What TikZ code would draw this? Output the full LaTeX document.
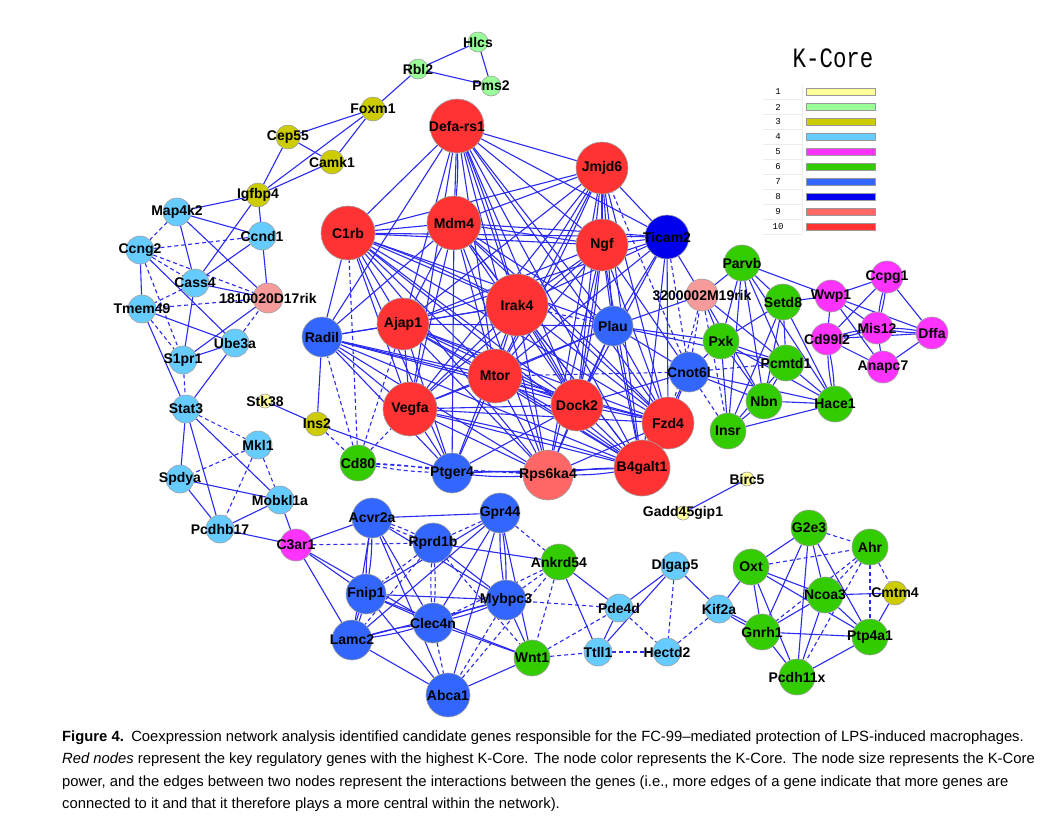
\documentclass[tikz,border=0pt]{standalone}
\usepackage{fontspec}
\setmainfont{Liberation Sans}
\newfontfamily\monof{Liberation Mono}
\definecolor{kA}{HTML}{FFFF99}
\definecolor{kB}{HTML}{99FF99}
\definecolor{kC}{HTML}{CCCC00}
\definecolor{kD}{HTML}{66CCFF}
\definecolor{kE}{HTML}{FF33FF}
\definecolor{kF}{HTML}{33CC00}
\definecolor{kG}{HTML}{3366FF}
\definecolor{kH}{HTML}{0000EE}
\definecolor{kI}{HTML}{FF6666}
\definecolor{kJ}{HTML}{FF3333}
\definecolor{kIl}{HTML}{F79A9A}
\definecolor{edgeblue}{HTML}{2A2AF2}
\pgfdeclarelayer{bgfill}
\pgfdeclarelayer{edges}
\pgfsetlayers{bgfill,edges,main}
\tikzset{
  gnode/.style={circle, draw=gray!75, line width=0.6pt, inner sep=0pt},
  lab/.style={font=\bfseries\fontsize{14}{14}\selectfont, text=black, inner sep=0pt},
  ed/.style={draw=edgeblue, line width=1.1pt},
  de/.style={draw=edgeblue, line width=1.1pt, dash pattern=on 4pt off 3pt},
  capline/.style={anchor=base west, inner sep=0pt, font=\fontsize{14.8}{16}\selectfont},
}
\newcommand\gn[6]{\node[gnode,fill=#5,minimum size=#4pt,label={[lab]center:#6}] (#1) at (#2,#3) {};}
\newcommand\dbl[3][ed]{\draw[#1] (#2) to[bend left=4] (#3); \draw[#1] (#2) to[bend right=4] (#3);}
\begin{document}
\begin{tikzpicture}[x=1pt,y=-1pt]
\useasboundingbox (0,0) rectangle (1049,831);
\begin{pgfonlayer}{bgfill}
\fill[white] (0,0) rectangle (1049,831);
\end{pgfonlayer}
% ---- nodes: top / left
\gn{hlcs}{478}{42}{20}{kB}{Hlcs}
\gn{rbl2}{418}{69}{20}{kB}{Rbl2}
\gn{pms2}{491}{86}{20}{kB}{Pms2}
\gn{foxm1}{373}{109}{24}{kC}{Foxm1}
\gn{cep55}{288}{137}{24}{kC}{Cep55}
\gn{camk1}{332}{162}{24}{kC}{Camk1}
\gn{igfbp4}{258}{195}{24}{kC}{Igfbp4}
\gn{map4k2}{177}{212}{28}{kD}{Map4k2}
\gn{ccnd1}{262}{236}{28}{kD}{Ccnd1}
\gn{ccng2}{140}{250}{28}{kD}{Ccng2}
\gn{cass4}{195}{283}{28}{kD}{Cass4}
\gn{rikA}{268}{298}{30}{kIl}{1810020D17rik}
\gn{tmem49}{142}{309}{28}{kD}{Tmem49}
\gn{ube3a}{235}{343}{28}{kD}{Ube3a}
\gn{s1pr1}{183}{360}{28}{kD}{S1pr1}
\gn{stat3}{186}{409}{28}{kD}{Stat3}
\gn{stk38}{265}{401}{14}{kA}{Stk38}
\gn{mkl1}{258}{445}{28}{kD}{Mkl1}
\gn{spdya}{180}{479}{28}{kD}{Spdya}
\gn{mobkl1a}{280}{500}{28}{kD}{Mobkl1a}
\gn{pcdhb17}{220}{529}{28}{kD}{Pcdhb17}
\gn{c3ar1}{296}{545}{32}{kE}{C3ar1}
% ---- centre
\gn{defa}{457}{126}{54}{kJ}{Defa-rs1}
\gn{jmjd6}{602}{168}{52}{kJ}{Jmjd6}
\gn{c1rb}{348}{233}{54}{kJ}{C1rb}
\gn{mdm4}{454}{223}{54}{kJ}{Mdm4}
\gn{ngf}{602}{245}{52}{kJ}{Ngf}
\gn{ticam2}{667}{237}{44}{kH}{Ticam2}
\gn{irak4}{517}{305}{62}{kJ}{Irak4}
\gn{rikB}{702}{295}{32}{kIl}{3200002M19rik}
\gn{ajap1}{403}{324}{52}{kJ}{Ajap1}
\gn{radil}{322}{337}{40}{kG}{Radil}
\gn{plau}{613}{326}{40}{kG}{Plau}
\gn{mtor}{495}{376}{54}{kJ}{Mtor}
\gn{cnot6l}{689}{372}{40}{kG}{Cnot6l}
\gn{vegfa}{410}{409}{54}{kJ}{Vegfa}
\gn{dock2}{577}{405}{52}{kJ}{Dock2}
\gn{fzd4}{668}{423}{52}{kJ}{Fzd4}
\gn{ins2}{317}{424}{24}{kC}{Ins2}
\gn{cd80}{358}{463}{36}{kF}{Cd80}
\gn{ptger4}{452}{473}{40}{kG}{Ptger4}
\gn{rps6ka4}{548}{475}{50}{kI}{Rps6ka4}
\gn{b4galt1}{642}{468}{56}{kJ}{B4galt1}
% ---- right
\gn{parvb}{742}{263}{36}{kF}{Parvb}
\gn{setd8}{783}{302}{36}{kF}{Setd8}
\gn{wwp1}{831}{296}{32}{kE}{Wwp1}
\gn{ccpg1}{887}{277}{32}{kE}{Ccpg1}
\gn{pxk}{721}{341}{36}{kF}{Pxk}
\gn{cd99l2}{827}{339}{32}{kE}{Cd99l2}
\gn{mis12}{877}{328}{32}{kE}{Mis12}
\gn{dffa}{932}{333}{32}{kE}{Dffa}
\gn{pcmtd1}{786}{363}{36}{kF}{Pcmtd1}
\gn{anapc7}{883}{367}{32}{kE}{Anapc7}
\gn{nbn}{764}{401}{36}{kF}{Nbn}
\gn{hace1}{835}{404}{36}{kF}{Hace1}
\gn{insr}{728}{431}{36}{kF}{Insr}
% ---- bottom
\gn{birc5}{747}{479}{14}{kA}{Birc5}
\gn{gadd}{683}{513}{14}{kA}{Gadd45gip1}
\gn{acvr2a}{372}{518}{40}{kG}{Acvr2a}
\gn{gpr44}{500}{513}{40}{kG}{Gpr44}
\gn{rprd1b}{433}{543}{40}{kG}{Rprd1b}
\gn{ankrd54}{559}{562}{36}{kF}{Ankrd54}
\gn{dlgap5}{675}{566}{28}{kD}{Dlgap5}
\gn{fnip1}{366}{594}{40}{kG}{Fnip1}
\gn{mybpc3}{506}{600}{40}{kG}{Mybpc3}
\gn{pde4d}{619}{608}{28}{kD}{Pde4d}
\gn{kif2a}{719}{609}{28}{kD}{Kif2a}
\gn{clec4n}{433}{623}{40}{kG}{Clec4n}
\gn{lamc2}{352}{640}{40}{kG}{Lamc2}
\gn{wnt1}{532}{658}{36}{kF}{Wnt1}
\gn{ttll1}{598}{652}{28}{kD}{Ttll1}
\gn{hectd2}{667}{652}{28}{kD}{Hectd2}
\gn{abca1}{448}{695}{44}{kG}{Abca1}
\gn{g2e3}{809}{528}{36}{kF}{G2e3}
\gn{ahr}{870}{547}{36}{kF}{Ahr}
\gn{oxt}{751}{567}{36}{kF}{Oxt}
\gn{ncoa3}{825}{595}{36}{kF}{Ncoa3}
\gn{cmtm4}{895}{593}{24}{kC}{Cmtm4}
\gn{gnrh1}{762}{632}{36}{kF}{Gnrh1}
\gn{ptp4a1}{870}{637}{36}{kF}{Ptp4a1}
\gn{pcdh11x}{797}{677}{36}{kF}{Pcdh11x}
% ---- edges
\begin{pgfonlayer}{edges}
\foreach \a/\b in {rbl2/hlcs,rbl2/pms2,hlcs/pms2,rbl2/foxm1,foxm1/cep55,foxm1/camk1,foxm1/igfbp4,cep55/camk1,cep55/igfbp4,camk1/igfbp4,igfbp4/map4k2,igfbp4/ccnd1,igfbp4/cass4,
 map4k2/ccnd1,map4k2/cass4,map4k2/rikA,ccnd1/cass4,ccnd1/rikA,ccng2/tmem49,ccng2/ube3a,cass4/rikA,cass4/s1pr1,tmem49/ube3a,tmem49/stat3,ube3a/s1pr1,ube3a/stat3,s1pr1/rikA,
 stat3/spdya,stat3/pcdhb17,stat3/mobkl1a,spdya/mobkl1a,spdya/pcdhb17,pcdhb17/mobkl1a,pcdhb17/c3ar1,mobkl1a/c3ar1,
 stk38/ins2,ins2/radil,ins2/ptger4}
  \draw[ed] (\a) -- (\b);
\foreach \a/\b in {map4k2/ccng2,ccnd1/ccng2,ccng2/cass4,ccng2/rikA,ccng2/s1pr1,cass4/tmem49,tmem49/rikA,tmem49/s1pr1,ube3a/rikA,s1pr1/stat3,
 stat3/mkl1,mkl1/spdya,mkl1/pcdhb17,mkl1/mobkl1a,ins2/cd80,cd80/radil,cd80/c1rb,cd80/ajap1,cd80/vegfa,cd80/rps6ka4}
  \draw[de] (\a) -- (\b);
\dbl[de]{cd80}{ptger4}
% red core: complete graph
\foreach \a [count=\i] in {defa,jmjd6,c1rb,mdm4,ngf,irak4,ajap1,mtor,vegfa,dock2,fzd4,b4galt1}{
  \foreach \b [count=\j] in {defa,jmjd6,c1rb,mdm4,ngf,irak4,ajap1,mtor,vegfa,dock2,fzd4,b4galt1}{
    \ifnum\j>\i \draw[ed] (\a) -- (\b); \fi
  }
}
\foreach \a/\b in {defa/mdm4,defa/irak4,ngf/dock2,irak4/dock2,mtor/b4galt1,vegfa/b4galt1,c1rb/irak4,ajap1/dock2,jmjd6/mtor,mdm4/fzd4}
  \draw[ed] (\a) to[bend left=3] (\b);
\foreach \a/\b in {radil/c1rb,radil/defa,radil/mdm4,radil/ajap1,radil/vegfa,radil/mtor,radil/dock2,radil/ptger4,radil/fzd4,radil/b4galt1,radil/irak4,radil/rps6ka4,
 plau/jmjd6,plau/ngf,plau/ticam2,plau/mtor,plau/dock2,plau/fzd4,plau/b4galt1,plau/vegfa,plau/rps6ka4,plau/c1rb,plau/mdm4,plau/ajap1,plau/rikB,plau/cnot6l,plau/pxk,plau/pcmtd1,plau/defa,
 ticam2/defa,ticam2/jmjd6,ticam2/mdm4,ticam2/c1rb,ticam2/ngf,ticam2/irak4,ticam2/ajap1,ticam2/fzd4,ticam2/dock2,ticam2/b4galt1,ticam2/rikB,ticam2/mtor,
 cnot6l/dock2,cnot6l/b4galt1,cnot6l/pxk,cnot6l/nbn,cnot6l/hace1,cnot6l/fzd4,cnot6l/ngf,
 rikB/parvb,rikB/pxk,rikB/pcmtd1,rikB/nbn,
 ptger4/vegfa,ptger4/ajap1,ptger4/mdm4,ptger4/dock2,ptger4/b4galt1,ptger4/mtor,ptger4/irak4,ptger4/c1rb,
 rps6ka4/vegfa,rps6ka4/ajap1,rps6ka4/mtor,rps6ka4/irak4,rps6ka4/dock2,rps6ka4/fzd4,rps6ka4/ngf,rps6ka4/c1rb,rps6ka4/mdm4,rps6ka4/defa,rps6ka4/jmjd6}
  \draw[ed] (\a) -- (\b);
\foreach \a/\b in {plau/irak4,ticam2/cnot6l,cnot6l/mtor,cnot6l/insr,cnot6l/pcmtd1,cnot6l/jmjd6,cnot6l/rikB,rikB/insr,rikB/fzd4}
  \draw[de] (\a) -- (\b);
\dbl{ptger4}{rps6ka4}
\dbl{rps6ka4}{b4galt1}
% green / magenta
\foreach \a/\b in {parvb/setd8,parvb/pxk,parvb/pcmtd1,parvb/nbn,parvb/insr,parvb/hace1,parvb/wwp1,setd8/pxk,setd8/nbn,setd8/insr,setd8/pcmtd1,setd8/hace1,setd8/wwp1,
 pxk/pcmtd1,pxk/nbn,pxk/insr,pxk/hace1,pcmtd1/nbn,pcmtd1/insr,pcmtd1/hace1,nbn/hace1,nbn/insr,insr/hace1,
 wwp1/ccpg1,wwp1/mis12,wwp1/dffa,wwp1/cd99l2,wwp1/anapc7,ccpg1/dffa,ccpg1/cd99l2,cd99l2/dffa,cd99l2/anapc7,mis12/anapc7,anapc7/dffa}
  \draw[ed] (\a) -- (\b);
\dbl{cd99l2}{hace1}
\dbl{ccpg1}{mis12}
\dbl{cd99l2}{mis12}
\dbl{mis12}{dffa}
% bottom
\foreach \a/\b in {c3ar1/acvr2a,c3ar1/fnip1,c3ar1/lamc2,c3ar1/clec4n,acvr2a/gpr44,acvr2a/lamc2,acvr2a/clec4n,acvr2a/abca1,acvr2a/mybpc3,
 gpr44/fnip1,gpr44/lamc2,gpr44/clec4n,gpr44/abca1,gpr44/wnt1,rprd1b/ankrd54,rprd1b/mybpc3,fnip1/mybpc3,fnip1/clec4n,fnip1/abca1,fnip1/wnt1,
 mybpc3/lamc2,mybpc3/wnt1,clec4n/wnt1,lamc2/abca1,abca1/wnt1,ankrd54/ttll1,ankrd54/pde4d,ttll1/pde4d,ttll1/dlgap5,pde4d/dlgap5,dlgap5/kif2a,kif2a/oxt,gadd/birc5,
 oxt/g2e3,oxt/ncoa3,oxt/gnrh1,oxt/pcdh11x,oxt/ptp4a1,g2e3/gnrh1,g2e3/ncoa3,g2e3/pcdh11x,g2e3/ptp4a1,ncoa3/cmtm4,ncoa3/gnrh1,ncoa3/ptp4a1,ncoa3/pcdh11x,
 gnrh1/ptp4a1,gnrh1/pcdh11x,ptp4a1/pcdh11x,ptp4a1/cmtm4}
  \draw[ed] (\a) -- (\b);
\foreach \a/\b in {c3ar1/rprd1b,gpr44/rprd1b,gpr44/ankrd54,rprd1b/fnip1,rprd1b/wnt1,rprd1b/lamc2,mybpc3/abca1,mybpc3/pde4d,mybpc3/ankrd54,
 clec4n/abca1,clec4n/ankrd54,abca1/ankrd54,ankrd54/wnt1,wnt1/pde4d,wnt1/ttll1,ttll1/hectd2,pde4d/hectd2,dlgap5/hectd2,hectd2/kif2a,
 oxt/ahr,g2e3/ahr,ahr/ncoa3,ahr/gnrh1,ahr/pcdh11x,ahr/cmtm4,ahr/ptp4a1}
  \draw[de] (\a) -- (\b);
\dbl{acvr2a}{fnip1}
\dbl[de]{acvr2a}{rprd1b}
\dbl{gpr44}{mybpc3}
\dbl[de]{rprd1b}{clec4n}
\dbl{fnip1}{lamc2}
\dbl{mybpc3}{clec4n}
\dbl{clec4n}{lamc2}
\dbl{kif2a}{gnrh1}
\end{pgfonlayer}
% ---- legend
\node[font=\monof\fontsize{28}{28}\selectfont, inner sep=0pt] (ktitle) at (833,58) {\scalebox{0.8}[1]{K-Core}};
\draw[gray!15, line width=0.6pt] (802,86) -- (802,234);
\foreach \y in {99.5,114.5,129.5,144.5,159.5,174.5,189.5,204.5,219.5,234.5}
  \draw[gray!15, line width=0.6pt] (763,\y) -- (802,\y);
\foreach \n/\c [count=\i] in {1/kA,2/kB,3/kC,4/kD,5/kE,6/kF,7/kG,8/kH,9/kI,10/kJ}{
  \node[font=\monof\fontsize{9}{9}\selectfont, inner sep=0pt] (lnum\i) at (778,77+15*\i) {\n};
  \node[draw=gray!80, line width=0.6pt, fill=\c, minimum width=69pt, minimum height=7pt, inner sep=0pt] (lbar\i) at (840.5,77+15*\i) {};
}
% ---- caption
\node[capline] (cap1) at (62,741) {\textbf{Figure 4.}\enspace Coexpression network analysis identified candidate genes responsible for the FC-99–mediated protection of LPS-induced macrophages.};
\node[capline] (cap2) at (62,763.5) {\textit{Red nodes} represent the key regulatory genes with the highest K-Core. The node color represents the K-Core. The node size represents the K-Core};
\node[capline] (cap3) at (62,786) {power, and the edges between two nodes represent the interactions between the genes (i.e., more edges of a gene indicate that more genes are};
\node[capline] (cap4) at (62,808.5) {connected to it and that it therefore plays a more central within the network).};
\end{tikzpicture}
\end{document}
